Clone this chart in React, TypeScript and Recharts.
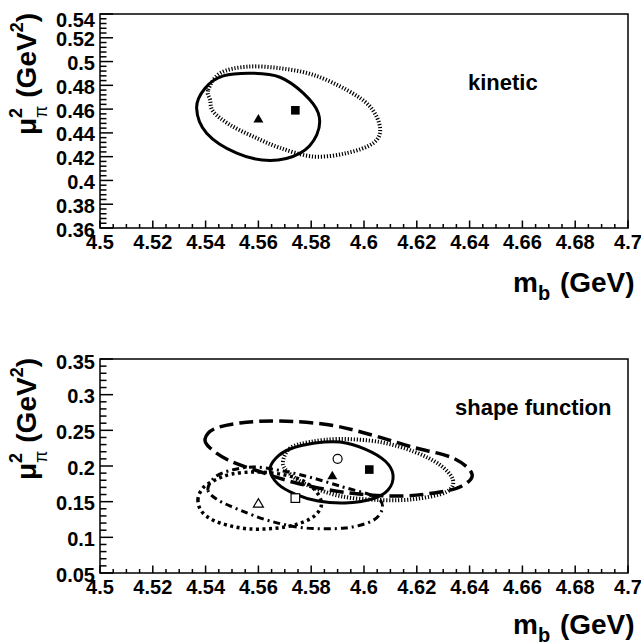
import React from 'react';
import { ComposedChart, Line, Scatter, XAxis, YAxis, ReferenceArea, Customized } from 'recharts';

const FONT = '"Liberation Sans", Arial, Helvetica, sans-serif';

// ---------- tick labels ----------
const xMajorTicks = [4.5, 4.52, 4.54, 4.56, 4.58, 4.6, 4.62, 4.64, 4.66, 4.68, 4.7];
const xTickLabels = ['4.5', '4.52', '4.54', '4.56', '4.58', '4.6', '4.62', '4.64', '4.66', '4.68', '4.7'];
const kinYMajorTicks = [0.36, 0.38, 0.4, 0.42, 0.44, 0.46, 0.48, 0.5, 0.52, 0.54];
const kinYTickLabels = ['0.36', '0.38', '0.4', '0.42', '0.44', '0.46', '0.48', '0.5', '0.52', '0.54'];
const sfYMajorTicks = [0.05, 0.1, 0.15, 0.2, 0.25, 0.3, 0.35];
const sfYTickLabels = ['0.05', '0.1', '0.15', '0.2', '0.25', '0.3', '0.35'];

// ---------- kinetic panel ----------
const kinSolidEllipse = [
  { x: 4.5366, y: 0.4608 }, { x: 4.5398, y: 0.4776 }, { x: 4.5467, y: 0.4879 }, { x: 4.5581, y: 0.4902 },
  { x: 4.5682, y: 0.4868 }, { x: 4.577, y: 0.4734 }, { x: 4.5827, y: 0.4566 }, { x: 4.5821, y: 0.4384 },
  { x: 4.5758, y: 0.423 }, { x: 4.5644, y: 0.4168 }, { x: 4.5518, y: 0.423 }, { x: 4.5404, y: 0.4398 },
];
const kinDottedEllipse = [
  { x: 4.541, y: 0.4762 }, { x: 4.5455, y: 0.4902 }, { x: 4.5556, y: 0.4957 }, { x: 4.5682, y: 0.4944 },
  { x: 4.5808, y: 0.4888 }, { x: 4.5934, y: 0.4762 }, { x: 4.6023, y: 0.4621 }, { x: 4.6061, y: 0.444 },
  { x: 4.6035, y: 0.4314 }, { x: 4.5934, y: 0.423 }, { x: 4.5808, y: 0.4201 }, { x: 4.5682, y: 0.4274 },
  { x: 4.5581, y: 0.4369 }, { x: 4.5492, y: 0.4468 }, { x: 4.5429, y: 0.4579 }, { x: 4.5417, y: 0.4678 },
];
const kinFilledTriangle = [{ x: 4.56, y: 0.452 }];
const kinFilledSquare = [{ x: 4.574, y: 0.459 }];

// ---------- shape function panel ----------
const sfDashedEllipse = [
  { x: 4.5398, y: 0.2378 }, { x: 4.5432, y: 0.2519 }, { x: 4.553, y: 0.2603 }, { x: 4.5682, y: 0.2631 },
  { x: 4.5871, y: 0.2575 }, { x: 4.603, y: 0.2435 }, { x: 4.6182, y: 0.2266 }, { x: 4.6337, y: 0.2112 },
  { x: 4.6409, y: 0.1888 }, { x: 4.6371, y: 0.172 }, { x: 4.6288, y: 0.1636 }, { x: 4.6136, y: 0.1579 },
  { x: 4.5947, y: 0.1621 }, { x: 4.5758, y: 0.1748 }, { x: 4.5598, y: 0.193 }, { x: 4.5485, y: 0.2084 },
  { x: 4.5417, y: 0.2252 },
];
const sfDottedEllipse = [
  { x: 4.5693, y: 0.2056 }, { x: 4.572, y: 0.2252 }, { x: 4.5795, y: 0.2336 }, { x: 4.5909, y: 0.2378 },
  { x: 4.6061, y: 0.2336 }, { x: 4.6193, y: 0.2196 }, { x: 4.6288, y: 0.2014 }, { x: 4.6337, y: 0.1804 },
  { x: 4.6311, y: 0.1635 }, { x: 4.6193, y: 0.1537 }, { x: 4.6061, y: 0.1523 }, { x: 4.5909, y: 0.1579 },
  { x: 4.5777, y: 0.1748 }, { x: 4.5712, y: 0.1916 },
];
const sfSolidEllipse = [
  { x: 4.5644, y: 0.1944 }, { x: 4.5667, y: 0.2112 }, { x: 4.572, y: 0.2238 }, { x: 4.5814, y: 0.2322 },
  { x: 4.5909, y: 0.2336 }, { x: 4.6004, y: 0.2238 }, { x: 4.608, y: 0.207 }, { x: 4.611, y: 0.1874 },
  { x: 4.6091, y: 0.1663 }, { x: 4.603, y: 0.1537 }, { x: 4.5928, y: 0.1481 }, { x: 4.5826, y: 0.1509 },
  { x: 4.5739, y: 0.1607 }, { x: 4.5674, y: 0.1748 },
];
const sfDashDotEllipse = [
  { x: 4.5409, y: 0.1663 }, { x: 4.5432, y: 0.1832 }, { x: 4.5485, y: 0.193 }, { x: 4.558, y: 0.1986 },
  { x: 4.5693, y: 0.193 }, { x: 4.5807, y: 0.1832 }, { x: 4.592, y: 0.1706 }, { x: 4.6015, y: 0.1607 },
  { x: 4.6061, y: 0.1523 }, { x: 4.6068, y: 0.1383 }, { x: 4.603, y: 0.1229 }, { x: 4.5928, y: 0.1131 },
  { x: 4.5777, y: 0.1131 }, { x: 4.5644, y: 0.1229 }, { x: 4.553, y: 0.1383 }, { x: 4.5447, y: 0.1523 },
];
const sfBigDotEllipse = [
  { x: 4.5371, y: 0.1523 }, { x: 4.539, y: 0.1692 }, { x: 4.5436, y: 0.1804 }, { x: 4.55, y: 0.1888 },
  { x: 4.5595, y: 0.1916 }, { x: 4.5701, y: 0.1874 }, { x: 4.5777, y: 0.1776 }, { x: 4.5826, y: 0.1607 },
  { x: 4.5837, y: 0.1425 }, { x: 4.5795, y: 0.1257 }, { x: 4.5701, y: 0.1145 }, { x: 4.5568, y: 0.1117 },
  { x: 4.5455, y: 0.1201 }, { x: 4.539, y: 0.1341 },
];
const sfFilledTriangle = [{ x: 4.588, y: 0.187 }];
const sfOpenCircle = [{ x: 4.59, y: 0.21 }];
const sfFilledSquare = [{ x: 4.602, y: 0.195 }];
const sfOpenSquare = [{ x: 4.574, y: 0.155 }];
const sfOpenTriangle = [{ x: 4.56, y: 0.148 }];

// ---------- helpers ----------
const withMinor = (majors: number[], sub: number) => {
  const out: number[] = [];
  for (let i = 0; i < majors.length; i++) {
    out.push(majors[i]);
    if (i < majors.length - 1) {
      const step = (majors[i + 1] - majors[i]) / sub;
      for (let k = 1; k < sub; k++) out.push(+(majors[i] + k * step).toFixed(6));
    }
  }
  return out;
};

// closed smooth curve through the points (Catmull-Rom as cubic Beziers)
const closedCurve = (context: any) => {
  let pts: number[][] = [];
  return {
    areaStart() {},
    areaEnd() {},
    lineStart() {
      pts = [];
    },
    point(x: number, y: number) {
      pts.push([+x, +y]);
    },
    lineEnd() {
      const n = pts.length;
      if (n < 3) return;
      context.moveTo(pts[0][0], pts[0][1]);
      for (let i = 0; i < n; i++) {
        const p0 = pts[(i - 1 + n) % n];
        const p1 = pts[i];
        const p2 = pts[(i + 1) % n];
        const p3 = pts[(i + 2) % n];
        context.bezierCurveTo(
          p1[0] + (p2[0] - p0[0]) / 6,
          p1[1] + (p2[1] - p0[1]) / 6,
          p2[0] - (p3[0] - p1[0]) / 6,
          p2[1] - (p3[1] - p1[1]) / 6,
          p2[0],
          p2[1]
        );
      }
      context.closePath();
    },
  };
};

const findIdx = (majors: number[], v: number) => majors.findIndex((m) => Math.abs(m - v) < 1e-7);

const makeXTick = (majors: number[], labels: string[]) => (props: any) => {
  const { x, y, payload } = props;
  const idx = findIdx(majors, payload.value);
  const len = idx >= 0 ? 7.5 : 4;
  return (
    <g>
      <line x1={x} x2={x} y1={y} y2={y - len} stroke="#000" strokeWidth={1.5} />
      {idx >= 0 && (
        <text x={x} y={y + 20.5} textAnchor="middle" fontFamily={FONT} fontWeight="bold" fontSize={20} fill="#000">
          {labels[idx]}
        </text>
      )}
    </g>
  );
};

const makeYTick = (majors: number[], labels: string[], topShift: number) => (props: any) => {
  const { x, y, payload } = props;
  const idx = findIdx(majors, payload.value);
  const len = idx >= 0 ? 13 : 6.5;
  const shift = idx === majors.length - 1 ? topShift : 0;
  return (
    <g>
      <line x1={x} x2={x + len} y1={y} y2={y} stroke="#000" strokeWidth={1.5} />
      {idx >= 0 && (
        <text x={x - 5} y={y + 8.5 + shift} textAnchor="end" fontFamily={FONT} fontWeight="bold" fontSize={20} fill="#000">
          {labels[idx]}
        </text>
      )}
    </g>
  );
};

const XTitle = ({ x, y }: { x: number; y: number }) => (
  <text x={x} y={y} fontFamily={FONT} fontWeight="bold" fontSize={28} fill="#000">
    m
    <tspan dy={8} fontSize={20}>b</tspan>
    <tspan dy={-8} dx={2}> (GeV)</tspan>
  </text>
);

const YTitle = ({ x, y }: { x: number; y: number }) => (
  <text
    transform={`translate(${x},${y}) rotate(-90)`}
    textAnchor="end"
    fontFamily={FONT}
    fontWeight="bold"
    fontSize={28}
    fill="#000"
  >
    μ
    <tspan dy={-14} fontSize={18}>2</tspan>
    <tspan dx={-10} dy={25} fontSize={18} fontWeight="normal">π</tspan>
    <tspan dy={-11}> (GeV</tspan>
    <tspan dy={-13} fontSize={18}>2</tspan>
    <tspan dy={13}>)</tspan>
  </text>
);

const FilledTriangle = (p: any) => (
  <polygon points={`${p.cx - 5},${p.cy + 4} ${p.cx + 5},${p.cy + 4} ${p.cx},${p.cy - 4.5}`} fill="#000" />
);
const OpenTriangle = (p: any) => (
  <polygon
    points={`${p.cx - 5},${p.cy + 4} ${p.cx + 5},${p.cy + 4} ${p.cx},${p.cy - 4.5}`}
    fill="#fff"
    stroke="#000"
    strokeWidth={1.2}
  />
);
const FilledSquare = (p: any) => <rect x={p.cx - 4.3} y={p.cy - 4.3} width={8.6} height={8.6} fill="#000" />;
const OpenSquare = (p: any) => (
  <rect x={p.cx - 4.3} y={p.cy - 4.3} width={8.6} height={8.6} fill="#fff" stroke="#000" strokeWidth={1.2} />
);
const OpenCircle = (p: any) => <circle cx={p.cx} cy={p.cy} r={4.5} fill="#fff" stroke="#000" strokeWidth={1.2} />;

const xTicks = withMinor(xMajorTicks, 4);
const kinYTicks = withMinor(kinYMajorTicks, 5);
const sfYTicks = withMinor(sfYMajorTicks, 5);

const XTickK = makeXTick(xMajorTicks, xTickLabels);
const YTickK = makeYTick(kinYMajorTicks, kinYTickLabels, 4);
const YTickS = makeYTick(sfYMajorTicks, sfYTickLabels, 1);

const KinTitles = () => (
  <g>
    <XTitle x={513} y={292} />
    <YTitle x={36} y={13} />
    <text x={468} y={90} fontFamily={FONT} fontWeight="bold" fontSize={22} fill="#000">
      kinetic
    </text>
  </g>
);

const SfTitles = () => (
  <g>
    <XTitle x={513} y={289} />
    <YTitle x={36} y={13} />
    <text x={455} y={70} fontFamily={FONT} fontWeight="bold" fontSize={22} fill="#000">
      shape function
    </text>
  </g>
);

const lineCommon = {
  dataKey: 'y',
  type: closedCurve as any,
  stroke: '#000',
  dot: false,
  activeDot: false,
  isAnimationActive: false,
  fill: 'none',
};

export default function App() {
  return (
    <div style={{ position: 'absolute', left: 0, top: 0, width: 641, height: 643, overflow: 'hidden', background: '#fff' }}>
      <div style={{ position: 'absolute', left: 0, top: 0 }}>
        <ComposedChart width={641} height={320} margin={{ top: 14, right: 13, bottom: 0, left: 0 }}>
          <XAxis
            type="number"
            dataKey="x"
            domain={[4.5, 4.7]}
            ticks={xTicks}
            interval={0}
            tickSize={0}
            tickMargin={0}
            tickLine={false}
            axisLine={false}
            tick={XTickK}
            height={92}
            allowDataOverflow
          />
          <YAxis
            type="number"
            dataKey="y"
            domain={[0.36, 0.54]}
            ticks={kinYTicks}
            interval={0}
            tickSize={0}
            tickMargin={0}
            tickLine={false}
            axisLine={false}
            tick={YTickK}
            width={100}
            allowDataOverflow
          />
          <Line {...lineCommon} data={kinDottedEllipse} strokeWidth={4} strokeDasharray="1.2 1.8" />
          <Line {...lineCommon} data={kinSolidEllipse} strokeWidth={3} />
          <Scatter data={kinFilledTriangle} shape={FilledTriangle} isAnimationActive={false} />
          <Scatter data={kinFilledSquare} shape={FilledSquare} isAnimationActive={false} />
          <ReferenceArea x1={4.5} x2={4.7} y1={0.36} y2={0.54} fill="none" fillOpacity={0} stroke="#000" strokeWidth={1.5} />
          <Customized component={KinTitles} />
        </ComposedChart>
      </div>
      <div style={{ position: 'absolute', left: 0, top: 345 }}>
        <ComposedChart width={641} height={298} margin={{ top: 14, right: 13, bottom: 0, left: 0 }}>
          <XAxis
            type="number"
            dataKey="x"
            domain={[4.5, 4.7]}
            ticks={xTicks}
            interval={0}
            tickSize={0}
            tickMargin={0}
            tickLine={false}
            axisLine={false}
            tick={XTickK}
            height={70}
            allowDataOverflow
          />
          <YAxis
            type="number"
            dataKey="y"
            domain={[0.05, 0.35]}
            ticks={sfYTicks}
            interval={0}
            tickSize={0}
            tickMargin={0}
            tickLine={false}
            axisLine={false}
            tick={YTickS}
            width={100}
            allowDataOverflow
          />
          <Line {...lineCommon} data={sfDashedEllipse} strokeWidth={3.5} strokeDasharray="14 6" />
          <Line {...lineCommon} data={sfDottedEllipse} strokeWidth={4} strokeDasharray="1.2 1.8" />
          <Line {...lineCommon} data={sfBigDotEllipse} strokeWidth={3.5} strokeDasharray="3 3.5" />
          <Line {...lineCommon} data={sfDashDotEllipse} strokeWidth={3} strokeDasharray="7 4 2 4" />
          <Line {...lineCommon} data={sfSolidEllipse} strokeWidth={3} />
          <Scatter data={sfOpenTriangle} shape={OpenTriangle} isAnimationActive={false} />
          <Scatter data={sfOpenSquare} shape={OpenSquare} isAnimationActive={false} />
          <Scatter data={sfFilledTriangle} shape={FilledTriangle} isAnimationActive={false} />
          <Scatter data={sfOpenCircle} shape={OpenCircle} isAnimationActive={false} />
          <Scatter data={sfFilledSquare} shape={FilledSquare} isAnimationActive={false} />
          <ReferenceArea x1={4.5} x2={4.7} y1={0.05} y2={0.35} fill="none" fillOpacity={0} stroke="#000" strokeWidth={1.5} />
          <Customized component={SfTitles} />
        </ComposedChart>
      </div>
    </div>
  );
}
